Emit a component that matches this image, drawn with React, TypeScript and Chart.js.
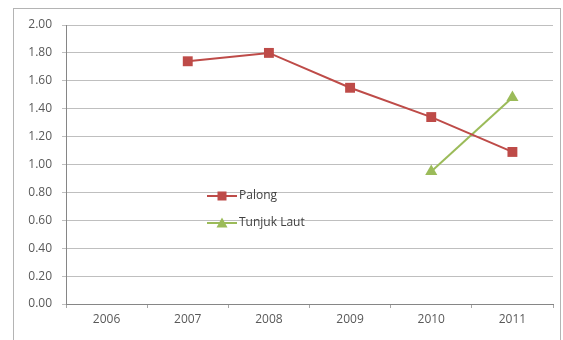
import React, { useEffect, useRef } from "react";
import { Chart, registerables } from "chart.js";

Chart.register(...registerables);

const years = ["2006", "2007", "2008", "2009", "2010", "2011"];
const palong = [null, 1.74, 1.8, 1.55, 1.34, 1.09];
const tunjukLaut = [null, null, null, null, 0.95, 1.48];
const seriesNames = ["Palong", "Tunjuk Laut"];

const RED = "#BE4B48";
const GREEN = "#9BBB59";
const FONT = "'Open Sans', 'Liberation Sans', sans-serif";

// Frame around the whole chart, drawn behind everything
const framePlugin = {
  id: "frame",
  beforeDraw(chart: any) {
    const { ctx } = chart;
    ctx.save();
    ctx.fillStyle = "#ffffff";
    ctx.fillRect(0, 0, chart.width, chart.height);
    ctx.strokeStyle = "#b4b4b4";
    ctx.lineWidth = 1;
    ctx.strokeRect(13.5, 8.5, 547, 340);
    ctx.restore();
  },
};

// Legend placed inside the plot area, below the lines
const innerLegendPlugin = {
  id: "innerLegend",
  afterDraw(chart: any) {
    const { ctx, chartArea } = chart;
    const x0 = chartArea.left + 141;
    const y0 = chartArea.top + 171;
    const gap = 27;
    ctx.save();
    chart.data.datasets.forEach((ds: any, i: number) => {
      const y = y0 + i * gap;
      ctx.strokeStyle = ds.borderColor;
      ctx.lineWidth = 2;
      ctx.beginPath();
      ctx.moveTo(x0, y);
      ctx.lineTo(x0 + 30, y);
      ctx.stroke();
      ctx.fillStyle = ds.backgroundColor;
      if (ds.pointStyle === "triangle") {
        ctx.beginPath();
        ctx.moveTo(x0 + 15, y - 5.5);
        ctx.lineTo(x0 + 20.5, y + 4.5);
        ctx.lineTo(x0 + 9.5, y + 4.5);
        ctx.closePath();
        ctx.fill();
      } else {
        ctx.fillRect(x0 + 10.5, y - 4.5, 9, 9);
      }
      ctx.fillStyle = "#404040";
      ctx.font = `12px ${FONT}`;
      ctx.textBaseline = "middle";
      ctx.textAlign = "left";
      ctx.fillText(ds.label, x0 + 32, y);
    });
    ctx.restore();
  },
};

export default function App() {
  const ref = useRef<HTMLCanvasElement>(null);

  useEffect(() => {
    document.body.style.margin = "0";
    const chart = new Chart(ref.current!, {
      type: "line",
      data: {
        labels: years,
        datasets: [
          {
            label: seriesNames[0],
            data: palong,
            borderColor: RED,
            backgroundColor: RED,
            borderWidth: 2,
            pointStyle: "rect",
            pointRadius: 7,
            pointBorderWidth: 0,
            spanGaps: false,
          },
          {
            label: seriesNames[1],
            data: tunjukLaut,
            borderColor: GREEN,
            backgroundColor: GREEN,
            borderWidth: 2,
            pointStyle: "triangle",
            pointRadius: 7,
            pointBorderWidth: 0,
          },
        ],
      },
      options: {
        responsive: false,
        animation: false,
        layout: { padding: { left: 0, right: 10, top: 25, bottom: 0 } },
        plugins: {
          legend: { display: false },
          tooltip: { enabled: false },
        },
        scales: {
          x: {
            offset: true,
            grid: {
              offset: true,
              drawOnChartArea: false,
              tickLength: 4,
              color: "#a6a6a6",
            },
            border: { color: "#868686" },
            ticks: { color: "#595959", font: { family: FONT, size: 12 }, padding: 4 },
            afterFit(scale: any) {
              scale.height = 36;
            },
          },
          y: {
            min: 0,
            max: 2,
            ticks: {
              stepSize: 0.2,
              color: "#595959",
              font: { family: FONT, size: 12 },
              padding: 10,
              callback: (v: any) => Number(v).toFixed(2),
            },
            grid: { color: "#bfbfbf", tickLength: 4 },
            border: { color: "#868686" },
            afterFit(scale: any) {
              scale.width = 66;
            },
          },
        },
      },
      plugins: [framePlugin, innerLegendPlugin],
    });
    return () => chart.destroy();
  }, []);

  return <canvas ref={ref} width={563} height={340} />;
}
